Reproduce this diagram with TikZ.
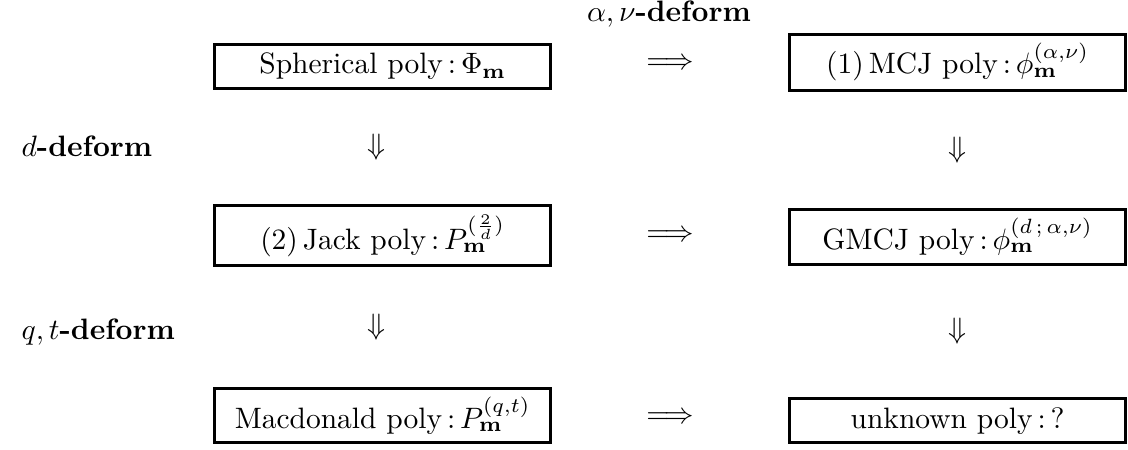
\documentclass[tikz,border=0pt]{standalone}
\usepackage{amsmath}
\usepackage{amssymb}
\usepackage{tikz}
\usetikzlibrary{positioning}

\begin{document}
\begin{tikzpicture}[
    font=\normalsize,
    line width=1pt,
    poly/.style={draw, minimum width=40mm, inner sep=3pt, anchor=base},
    lbl/.style={inner sep=0pt, anchor=base west},
    imp/.style={inner sep=0pt}
]
\useasboundingbox (0,0) rectangle (13.44,5.35);

\node[poly] (sph) at (4.56,4.47) {Spherical poly\,:\,$\Phi_{\mathbf{m}}$};
\node[poly] (mcj) at (11.41,4.47) {(1)\,MCJ poly\,:\,$\phi_{\mathbf{m}}^{(\alpha,\nu)}$};

\node[poly] (jack) at (4.56,2.38) {(2)\,Jack poly\,:\,$P_{\mathbf{m}}^{(\frac{2}{d})}$};
\node[poly] (gmcj) at (11.41,2.38) {GMCJ poly\,:\,$\phi_{\mathbf{m}}^{(d\,;\,\alpha,\nu)}$};

\node[poly] (mac) at (4.56,0.25) {Macdonald poly\,:\,$P_{\mathbf{m}}^{(q,t)}$};
\node[poly] (unk) at (11.41,0.25) {unknown poly\,:\,?};

\path (sph) -- node[imp] (r1) {$\Longrightarrow$} (mcj);
\path (jack) -- node[imp] (r2) {$\Longrightarrow$} (gmcj);
\path (mac) -- node[imp] (r3) {$\Longrightarrow$} (unk);

\path (sph) -- node[imp, xshift=-2pt] (d1) {$\Downarrow$} (jack);
\path (mcj) -- node[imp] (d2) {$\Downarrow$} (gmcj);
\path (jack) -- node[imp, xshift=-2pt] (d3) {$\Downarrow$} (mac);
\path (gmcj) -- node[imp] (d4) {$\Downarrow$} (unk);

\node[lbl, anchor=base] (adef) at (7.97,5.09) {$\alpha,\nu$\textbf{-deform}};
\node[lbl] (ddef) at (0.24,3.48) {$d$\textbf{-deform}};
\node[lbl] (qdef) at (0.24,1.31) {$q,t$\textbf{-deform}};
\end{tikzpicture}
\end{document}
